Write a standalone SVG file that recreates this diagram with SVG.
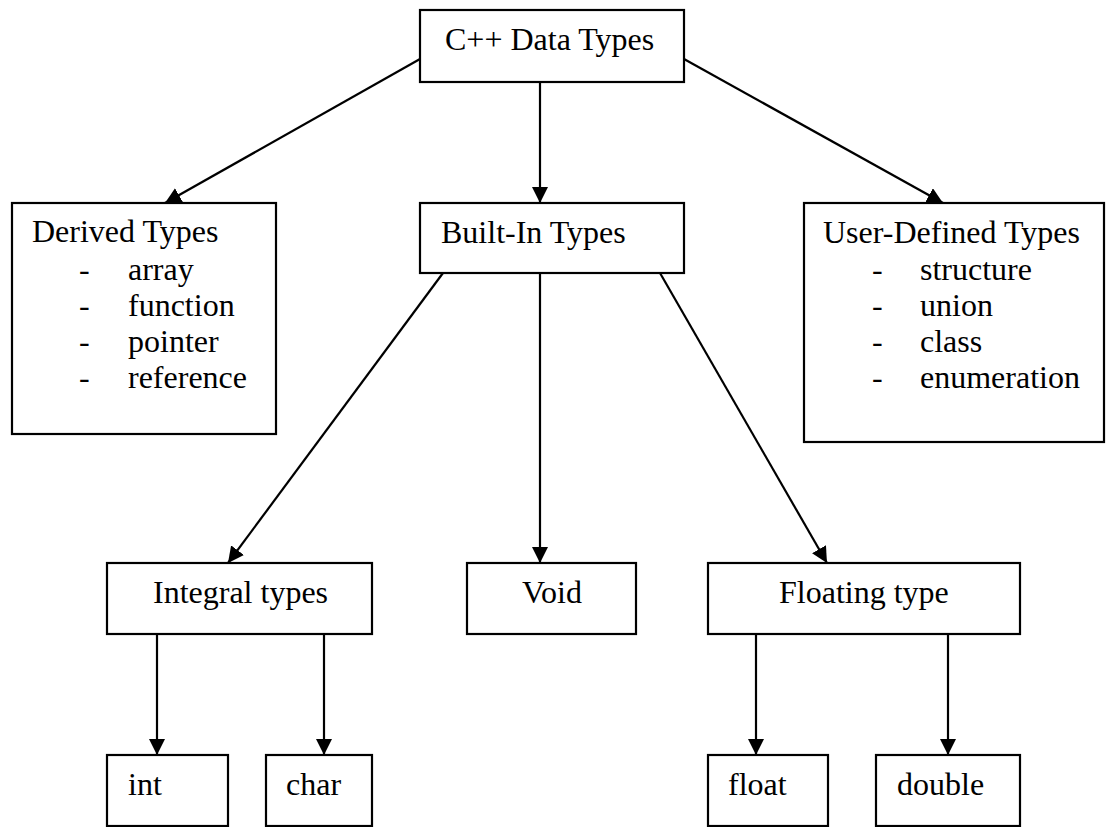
<svg xmlns="http://www.w3.org/2000/svg" width="1106" height="827" viewBox="0 0 1106 827">
<style>
.box{fill:#fff;stroke:#000;stroke-width:2.2}
.t{font-family:"Liberation Serif","Times New Roman",serif;font-size:32px;fill:#000}
.c{stroke:#000;stroke-width:2.2;fill:none;marker-end:url(#ah)}
</style>
<defs>
<marker id="ah" markerUnits="userSpaceOnUse" markerWidth="16" markerHeight="16" viewBox="0 0 16 16" refX="16" refY="8" orient="auto">
<path d="M0,0 L16,8 L0,16 Z" fill="#000"/>
</marker>
</defs>
<rect width="1106" height="827" fill="#fff"/>
<g id="connectors">
<line class="c" x1="420" y1="59" x2="165" y2="203"/>
<line class="c" x1="540" y1="82" x2="540" y2="203"/>
<line class="c" x1="684" y1="59" x2="943" y2="203"/>
<line class="c" x1="443" y1="273" x2="228" y2="563"/>
<line class="c" x1="540" y1="273" x2="540" y2="563"/>
<line class="c" x1="660" y1="273" x2="827" y2="563"/>
<line class="c" x1="157" y1="634" x2="157" y2="755"/>
<line class="c" x1="324" y1="634" x2="324" y2="755"/>
<line class="c" x1="756" y1="634" x2="756" y2="755"/>
<line class="c" x1="948" y1="634" x2="948" y2="755"/>
</g>
<g id="cpp-data-types">
<rect class="box" x="420" y="10" width="264" height="72"/>
<text class="t" x="445" y="50">C++ Data Types</text>
</g>
<g id="derived-types">
<rect class="box" x="12" y="203" width="264" height="231"/>
<text class="t" x="32" y="242">Derived Types</text>
<text class="t" x="79" y="280">-</text><text class="t" x="128" y="280">array</text>
<text class="t" x="79" y="316">-</text><text class="t" x="128" y="316">function</text>
<text class="t" x="79" y="352">-</text><text class="t" x="128" y="352">pointer</text>
<text class="t" x="79" y="388">-</text><text class="t" x="128" y="388">reference</text>
</g>
<g id="built-in-types">
<rect class="box" x="420" y="203" width="264" height="70"/>
<text class="t" x="441" y="243">Built-In Types</text>
</g>
<g id="user-defined-types">
<rect class="box" x="804" y="203" width="300" height="239"/>
<text class="t" x="823" y="243">User-Defined Types</text>
<text class="t" x="872" y="280">-</text><text class="t" x="920" y="280">structure</text>
<text class="t" x="872" y="316">-</text><text class="t" x="920" y="316">union</text>
<text class="t" x="872" y="352">-</text><text class="t" x="920" y="352">class</text>
<text class="t" x="872" y="388">-</text><text class="t" x="920" y="388">enumeration</text>
</g>
<g id="integral-types">
<rect class="box" x="107" y="563" width="265" height="71"/>
<text class="t" x="153" y="603">Integral types</text>
</g>
<g id="void">
<rect class="box" x="467" y="563" width="169" height="71"/>
<text class="t" x="522" y="603">Void</text>
</g>
<g id="floating-type">
<rect class="box" x="708" y="563" width="312" height="71"/>
<text class="t" x="779" y="603">Floating type</text>
</g>
<g id="int">
<rect class="box" x="107" y="755" width="121" height="71"/>
<text class="t" x="128" y="795">int</text>
</g>
<g id="char">
<rect class="box" x="266" y="755" width="106" height="71"/>
<text class="t" x="286" y="795">char</text>
</g>
<g id="float">
<rect class="box" x="708" y="755" width="120" height="71"/>
<text class="t" x="728" y="795">float</text>
</g>
<g id="double">
<rect class="box" x="876" y="755" width="144" height="71"/>
<text class="t" x="897" y="795">double</text>
</g>
</svg>
